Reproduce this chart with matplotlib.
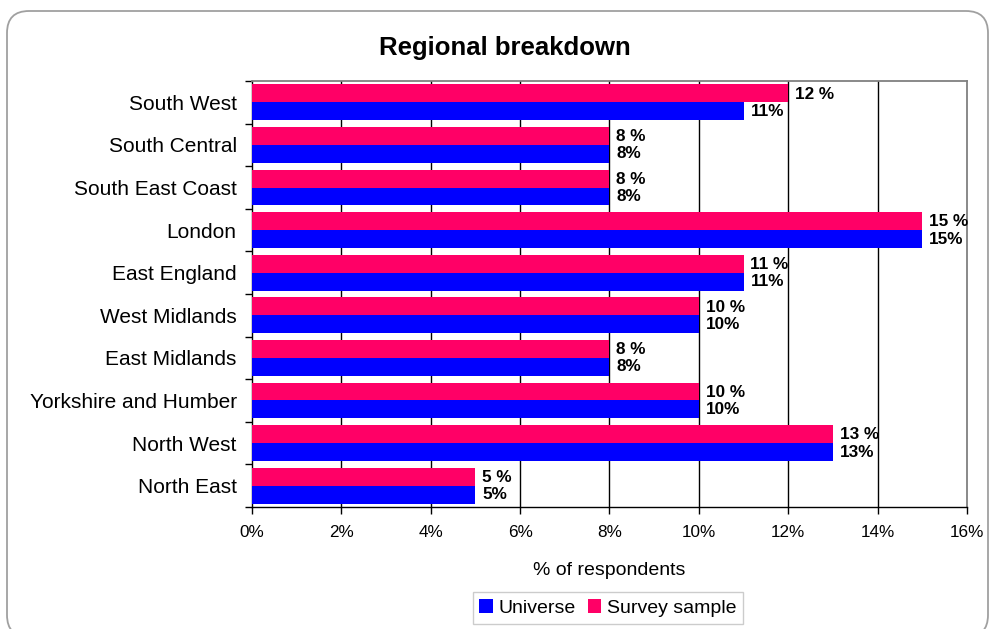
import numpy as np
import matplotlib.pyplot as plt
from matplotlib.patches import FancyBboxPatch
from matplotlib.transforms import IdentityTransform
from matplotlib.ticker import FuncFormatter

plt.rcParams['font.family'] = ['Liberation Sans', 'DejaVu Sans']

# Regions listed bottom to top
regions = ['North East', 'North West', 'Yorkshire and Humber', 'East Midlands',
           'West Midlands', 'East England', 'London', 'South East Coast',
           'South Central', 'South West']
universe = [5, 13, 10, 8, 10, 11, 15, 8, 8, 11]
survey = [5, 13, 10, 8, 10, 11, 15, 8, 8, 12]
xticks = [0, 2, 4, 6, 8, 10, 12, 14, 16]

BLUE = '#0000FF'
PINK = '#FF0066'

fig = plt.figure(figsize=(9.94, 6.29), dpi=100)
ax = fig.add_axes([0.2535, 0.194, 0.7193, 0.6772])

# rounded outer frame (pixel coords)
frame = FancyBboxPatch((7, -8), 981, 626, boxstyle='round,pad=0,rounding_size=22',
                       transform=IdentityTransform(), fc='none', ec='#A0A0A0', lw=1.3)
fig.add_artist(frame)

y = np.arange(len(regions))
h = 0.42
ax.barh(y - h/2, universe, height=h, color=BLUE, label='Universe', zorder=3)
ax.barh(y + h/2, survey, height=h, color=PINK, label='Survey sample', zorder=3)

for yi, u, s in zip(y, universe, survey):
    ax.annotate(f'{s} %', (s, yi + h/2), xytext=(5, -0.5), textcoords='offset points',
                va='center', ha='left', fontsize=12.3, fontweight='bold')
    ax.annotate(f'{u}%', (u, yi - h/2), xytext=(5, 0), textcoords='offset points',
                va='center', ha='left', fontsize=12.3, fontweight='bold')

ax.set_xlim(0, 16)
ax.set_ylim(-0.5, len(regions) - 0.5)
ax.set_xticks(xticks)
ax.xaxis.set_major_formatter(FuncFormatter(lambda v, p: f'{v:.0f}%'))
ax.tick_params(axis='x', labelsize=12.3, length=5, width=1, pad=8, direction='out')

ax.set_yticks(y)
ax.set_yticklabels(regions, fontsize=15)
ax.set_yticks(np.arange(len(regions) + 1) - 0.5, minor=True)
ax.tick_params(axis='y', which='major', length=0, pad=11)
ax.tick_params(axis='y', which='minor', length=5, width=1, direction='out')

for xv in xticks[1:-1]:
    ax.axvline(xv, color='black', lw=1, zorder=1)

for side in ['top', 'right']:
    ax.spines[side].set_color('#808080')
    ax.spines[side].set_linewidth(1.3)
for side in ['left', 'bottom']:
    ax.spines[side].set_color('black')
    ax.spines[side].set_linewidth(1)

ax.set_xlabel('% of respondents', fontsize=14, labelpad=16)

fig.text(505 / 994, 1 - 48 / 629, 'Regional breakdown', ha='center', va='center',
         fontsize=18.5, fontweight='bold')

handles, labels = ax.get_legend_handles_labels()
fig.legend(handles, labels, loc='center', bbox_to_anchor=(608 / 994, 1 - 608 / 629),
           ncol=2, fontsize=14, frameon=True, fancybox=False, edgecolor='#C0C0C0',
           handlelength=0.7, handleheight=0.7, handletextpad=0.3, columnspacing=0.6,
           borderpad=0.35, borderaxespad=0)

fig.savefig('out.png', dpi=100)
